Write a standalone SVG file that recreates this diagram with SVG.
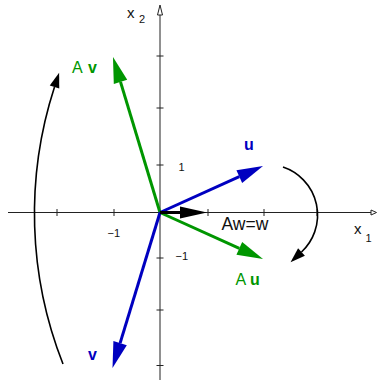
<svg xmlns="http://www.w3.org/2000/svg" width="377" height="381" viewBox="0 0 377 381">
<style>
.ax{stroke:#222;stroke-width:1;fill:none}
.tk{stroke:#222;stroke-width:1}
.ah{stroke:#222;stroke-width:1;fill:#fff}
.t{font-family:"Liberation Sans",Arial,sans-serif;fill:#111}
.num{font-size:11px}
.lbl{font-size:16px}
.b{font-weight:bold}
.blue{fill:#0000c0}
.green{fill:#009600}
.vb{stroke:#0000c0;stroke-width:3;fill:none}
.vg{stroke:#009600;stroke-width:3;fill:none}
.vk{stroke:#000;stroke-width:3;fill:none}
.arc{stroke:#000;stroke-width:1.6;fill:none}
</style>
<defs>
<marker id="hb" markerUnits="userSpaceOnUse" orient="auto" refX="0" refY="0" markerWidth="30" markerHeight="20" viewBox="-1 -10 30 20" overflow="visible"><path d="M0,-7 L26,0 L0,7 Z" fill="#0000c0"/></marker>
<marker id="hg" markerUnits="userSpaceOnUse" orient="auto" refX="0" refY="0" markerWidth="30" markerHeight="20" viewBox="-1 -10 30 20" overflow="visible"><path d="M0,-7 L26,0 L0,7 Z" fill="#009600"/></marker>
<marker id="hk" markerUnits="userSpaceOnUse" orient="auto" refX="0" refY="0" markerWidth="30" markerHeight="20" viewBox="-1 -10 30 20" overflow="visible"><path d="M0,-6 L27,0 L0,6 Z" fill="#000"/></marker>
<marker id="ha" markerUnits="userSpaceOnUse" orient="auto" refX="0" refY="0" markerWidth="20" markerHeight="14" viewBox="-1 -7 20 14" overflow="visible"><path d="M0,-5 L15,0 L0,5 Z" fill="#000"/></marker>
</defs>

<g id="axes">
<line class="ax" x1="8" y1="212.5" x2="371" y2="212.5"/>
<polygon class="ah" points="371,210 376.5,212.5 371,215"/>
<line class="ax" x1="160" y1="380" x2="160" y2="15"/>
<polygon class="ah" points="157.5,15 160,5 162.5,15"/>
<g id="ticks">
<line class="tk" x1="156.5" y1="56" x2="163.5" y2="56"/>
<line class="tk" x1="156.5" y1="108" x2="163.5" y2="108"/>
<line class="tk" x1="156.5" y1="165" x2="163.5" y2="165"/>
<line class="tk" x1="156.5" y1="258" x2="163.5" y2="258"/>
<line class="tk" x1="156.5" y1="310" x2="163.5" y2="310"/>
<line class="tk" x1="156.5" y1="365.5" x2="163.5" y2="365.5"/>
<line class="tk" x1="57" y1="209" x2="57" y2="216"/>
<line class="tk" x1="114" y1="209" x2="114" y2="216"/>
<line class="tk" x1="208" y1="209" x2="208" y2="216"/>
<line class="tk" x1="264" y1="209" x2="264" y2="216"/>
<line class="tk" x1="317" y1="209" x2="317" y2="216"/>
</g>
<text class="t" x="127" y="17.5" font-size="15">x</text>
<text class="t" x="139" y="23" font-size="11">2</text>
<text class="t" x="354" y="233.5" font-size="15">x</text>
<text class="t" x="365.5" y="241.5" font-size="11">1</text>
<text class="t num" x="178.5" y="171">1</text>
<text class="t num" x="107.5" y="237">−1</text>
<text class="t num" x="175.5" y="260">−1</text>
</g>

<g id="arcs">
<path id="arc-left" class="arc" d="M63,364 A410,410 0 0 1 54.5,87" marker-end="url(#ha)"/>
<path id="arc-right" class="arc" d="M283,167 A50.6,50.6 0 0 1 301.5,252" marker-end="url(#ha)"/>
</g>

<g id="vectors">
<g id="vec-Av"><line class="vg" x1="160" y1="212.5" x2="120.5" y2="81.9" marker-end="url(#hg)"/></g>
<g id="vec-Au"><line class="vg" x1="160" y1="212.5" x2="239.3" y2="248.3" marker-end="url(#hg)"/></g>
<g id="vec-u"><line class="vb" x1="160" y1="212.5" x2="239.3" y2="176.7" marker-end="url(#hb)"/></g>
<g id="vec-v"><line class="vb" x1="160" y1="212.5" x2="120.1" y2="343.1" marker-end="url(#hb)"/></g>
<g id="vec-w"><line class="vk" x1="160" y1="212.5" x2="180" y2="212.5" marker-end="url(#hk)"/></g>
</g>

<g id="labels">
<text class="t lbl b blue" x="244" y="149.5">u</text>
<text class="t lbl b blue" x="88" y="360">v</text>
<text class="t lbl green" x="235.5" y="285">A<tspan class="b" x="250">u</tspan></text>
<text class="t lbl green" x="72" y="73">A<tspan class="b" x="88">v</tspan></text>
<text class="t" x="221.5" y="229.8" font-size="17.5">Aw=w</text>
</g>
</svg>
